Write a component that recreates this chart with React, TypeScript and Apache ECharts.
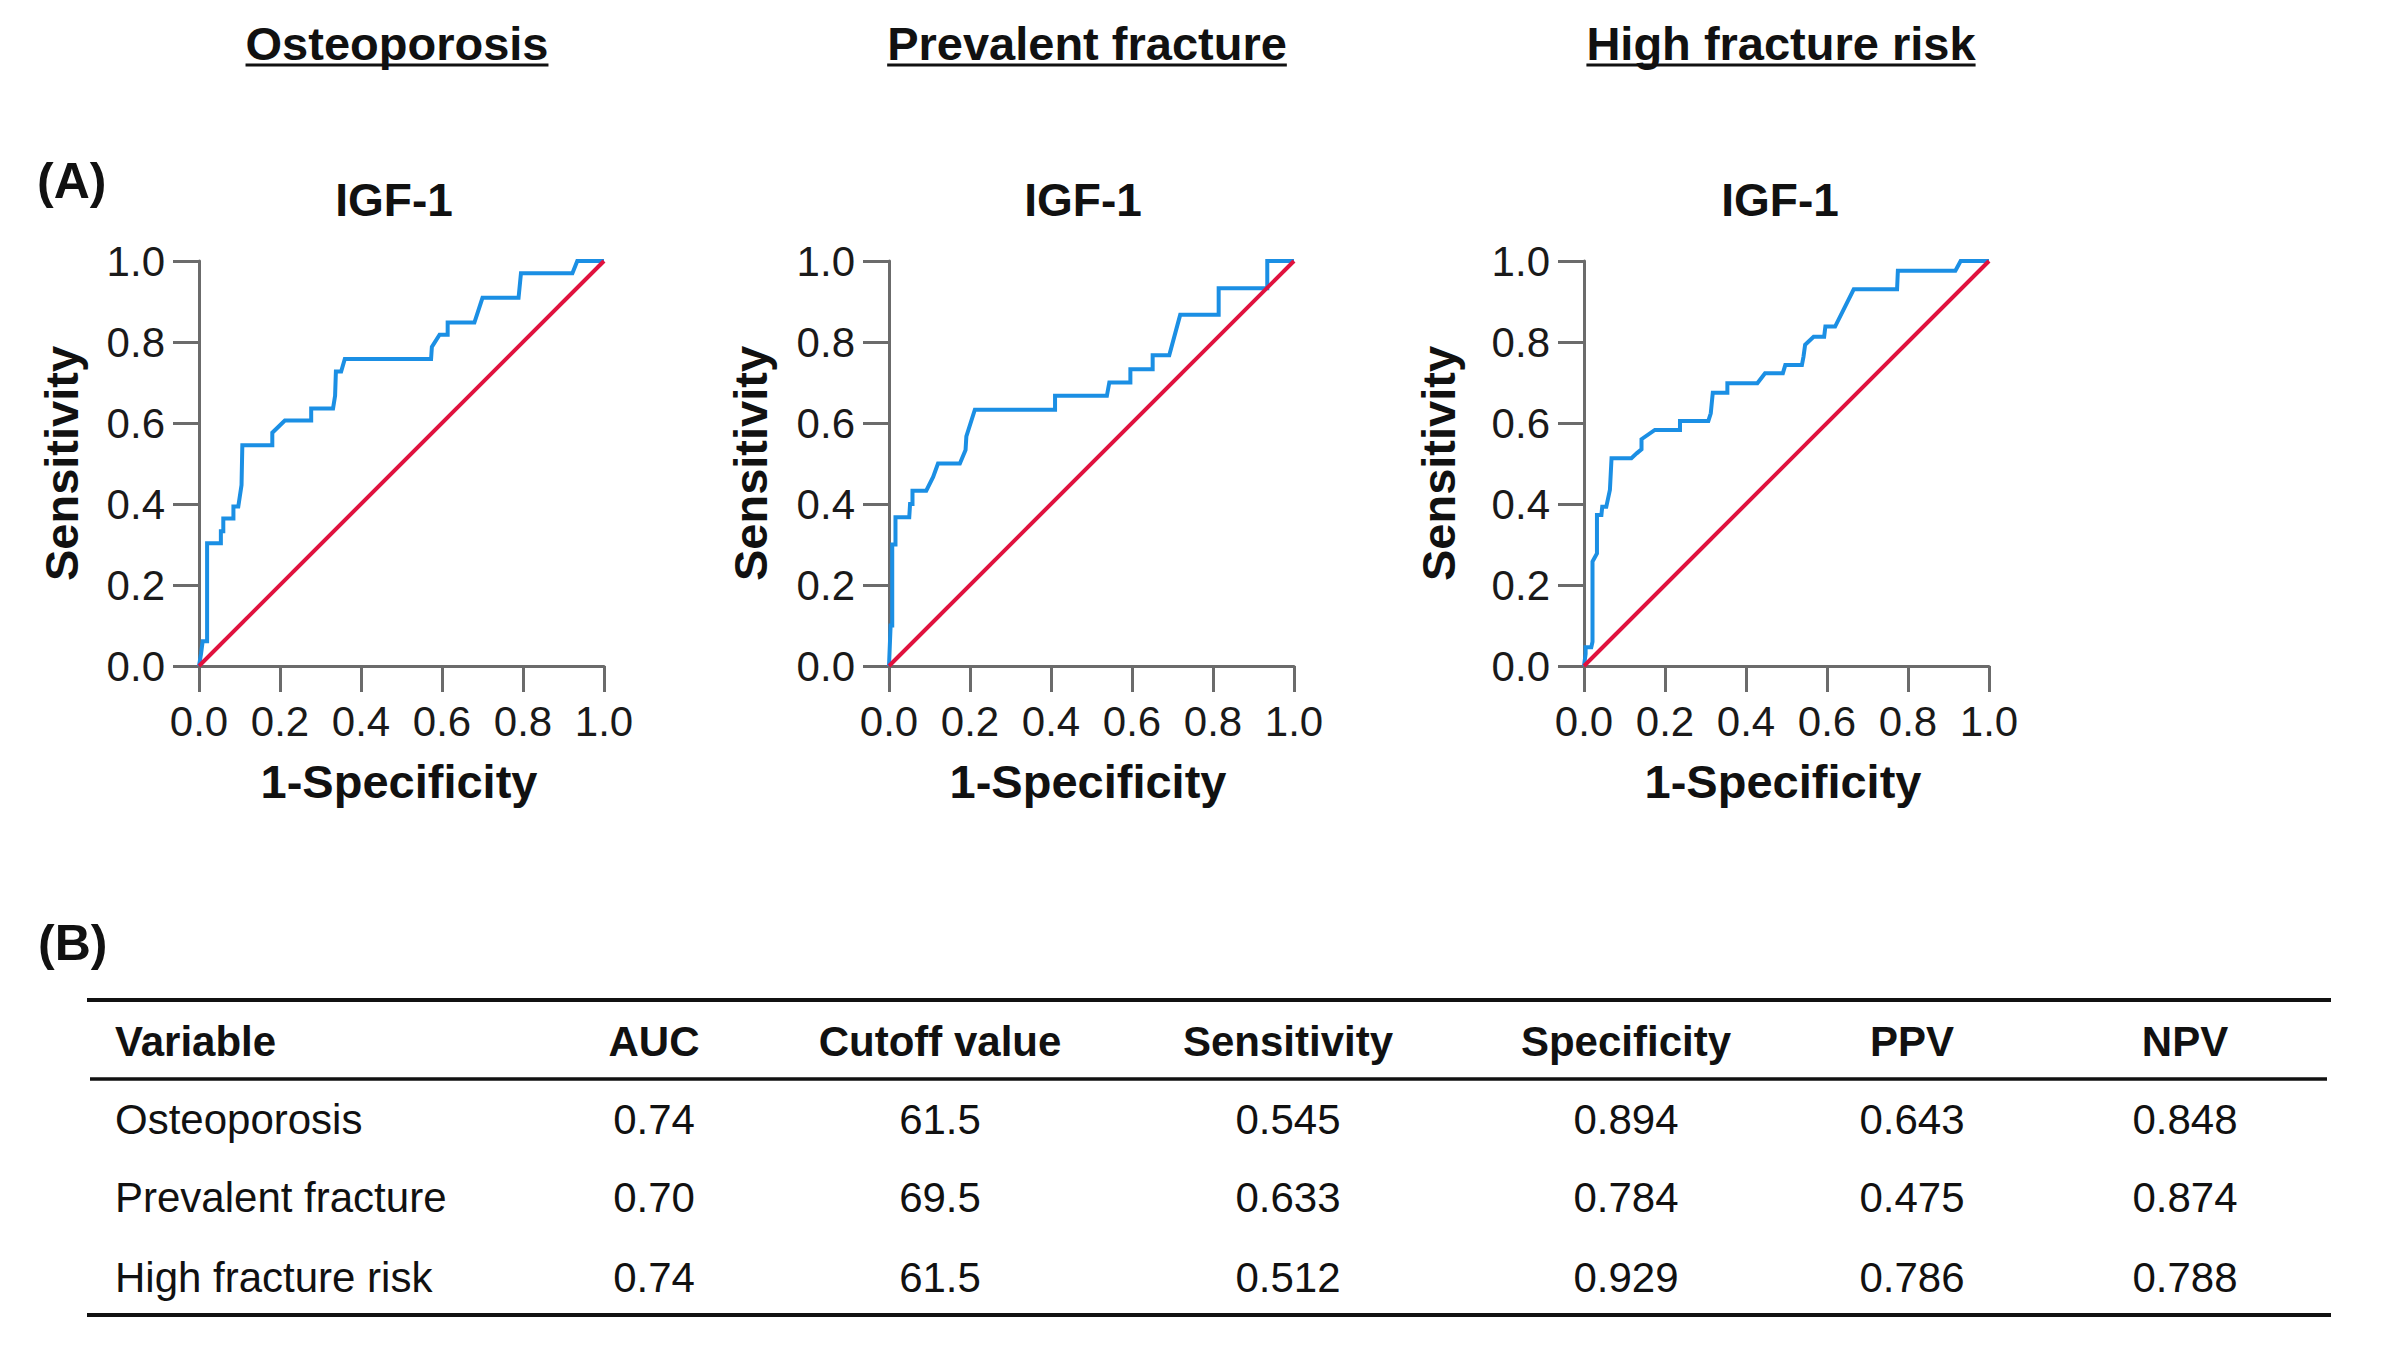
import React, { useEffect, useRef } from 'react';
import * as echarts from 'echarts';

// ---------- data ----------
const panelTitles = ['Osteoporosis', 'Prevalent fracture', 'High fracture risk'];
const plotTitle = 'IGF-1';
const xAxisTitle = '1-Specificity';
const yAxisTitle = 'Sensitivity';

const osteoFpr = [0, 0.005, 0.009, 0.020, 0.020, 0.054, 0.054, 0.060, 0.060, 0.085, 0.085, 0.097, 0.105, 0.107, 0.181, 0.181, 0.212, 0.277, 0.277, 0.331, 0.336, 0.338, 0.351, 0.360, 0.573, 0.575, 0.594, 0.614, 0.614, 0.680, 0.700, 0.789, 0.795, 0.922, 0.934, 1.0];
const osteoTpr = [0, 0.030, 0.061, 0.061, 0.303, 0.303, 0.333, 0.333, 0.364, 0.364, 0.394, 0.394, 0.447, 0.545, 0.545, 0.576, 0.606, 0.606, 0.636, 0.636, 0.667, 0.727, 0.727, 0.758, 0.758, 0.788, 0.818, 0.818, 0.848, 0.848, 0.909, 0.909, 0.970, 0.970, 1.0, 1.0];

const prevFpr = [0, 0.004, 0.008, 0.008, 0.016, 0.016, 0.050, 0.052, 0.058, 0.058, 0.092, 0.109, 0.121, 0.175, 0.189, 0.191, 0.212, 0.410, 0.410, 0.538, 0.544, 0.596, 0.596, 0.651, 0.651, 0.692, 0.719, 0.814, 0.814, 0.934, 0.934, 1.0];
const prevTpr = [0, 0.100, 0.100, 0.300, 0.300, 0.367, 0.367, 0.400, 0.400, 0.433, 0.433, 0.467, 0.500, 0.500, 0.533, 0.567, 0.633, 0.633, 0.667, 0.667, 0.700, 0.700, 0.733, 0.733, 0.767, 0.767, 0.867, 0.867, 0.933, 0.933, 1.0, 1.0];

const highFpr = [0, 0.004, 0.004, 0.018, 0.021, 0.021, 0.032, 0.032, 0.043, 0.045, 0.055, 0.064, 0.068, 0.117, 0.130, 0.142, 0.142, 0.175, 0.237, 0.237, 0.307, 0.313, 0.318, 0.354, 0.354, 0.428, 0.447, 0.491, 0.497, 0.538, 0.542, 0.546, 0.567, 0.593, 0.596, 0.620, 0.666, 0.773, 0.775, 0.917, 0.930, 1.0];
const highTpr = [0, 0.030, 0.046, 0.046, 0.060, 0.258, 0.278, 0.373, 0.373, 0.393, 0.393, 0.435, 0.513, 0.513, 0.525, 0.535, 0.560, 0.583, 0.583, 0.605, 0.605, 0.624, 0.675, 0.675, 0.698, 0.698, 0.723, 0.723, 0.743, 0.743, 0.764, 0.793, 0.813, 0.813, 0.838, 0.838, 0.930, 0.930, 0.976, 0.976, 1.0, 1.0];

const refLine = [[0, 0], [1, 1]];

const tableHeader = ['Variable', 'AUC', 'Cutoff value', 'Sensitivity', 'Specificity', 'PPV', 'NPV'];
const tableVariables = ['Osteoporosis', 'Prevalent fracture', 'High fracture risk'];
const aucValues = ['0.74', '0.70', '0.74'];
const cutoffValues = ['61.5', '69.5', '61.5'];
const sensValues = ['0.545', '0.633', '0.512'];
const specValues = ['0.894', '0.784', '0.929'];
const ppvValues = ['0.643', '0.475', '0.786'];
const npvValues = ['0.848', '0.874', '0.788'];

// ---------- layout ----------
const FONT = '"Liberation Sans", Arial, Helvetica, sans-serif';
const BLUE = '#1b8fe4';
const RED = '#e0123e';
const AXIS = '#6b6b6b';
const gridLefts = [199, 889, 1584];
const gridTop = 261;
const gridSize = 405;
const titleX = [397, 1087, 1781];
const igfX = [394, 1083, 1780];
const sensX = [61, 750, 1438];
const specX = [399, 1088, 1783];
const colX = [115, 654, 940, 1288, 1626, 1912, 2185];
const rowY = [1119, 1197, 1277];

function measure(text: string, font: string) {
  const c = document.createElement('canvas').getContext('2d');
  if (!c) return text.length * 25;
  c.font = font;
  return c.measureText(text).width;
}

export default function App() {
  const ref = useRef<HTMLDivElement>(null);
  useEffect(() => {
    if (!ref.current) return;
    const chart = echarts.init(ref.current, undefined, { renderer: 'svg' });
    const curves = [
      osteoFpr.map((x, i) => [x, osteoTpr[i]]),
      prevFpr.map((x, i) => [x, prevTpr[i]]),
      highFpr.map((x, i) => [x, highTpr[i]]),
    ];
    const grids = gridLefts.map((l) => ({ left: l, top: gridTop, width: gridSize, height: gridSize }));
    const axisCommon = {
      type: 'value' as const,
      min: 0,
      max: 1,
      interval: 0.2,
      splitLine: { show: false },
      axisLine: { show: true, lineStyle: { color: AXIS, width: 3 } },
      axisTick: { show: true, length: 26, lineStyle: { color: AXIS, width: 3 } },
    };
    const xAxes = gridLefts.map((_, i) => ({
      ...axisCommon,
      gridIndex: i,
      axisLabel: { fontSize: 42, fontFamily: FONT, color: '#1a1a1a', margin: 34, formatter: (v: number) => v.toFixed(1) },
    }));
    const yAxes = gridLefts.map((_, i) => ({
      ...axisCommon,
      gridIndex: i,
      axisLabel: { fontSize: 42, fontFamily: FONT, color: '#1a1a1a', margin: 34, formatter: (v: number) => v.toFixed(1) },
    }));
    const series: any[] = [];
    curves.forEach((d, i) => {
      series.push({
        type: 'line', xAxisIndex: i, yAxisIndex: i, data: d, showSymbol: false, symbol: 'none',
        clip: false, lineStyle: { color: BLUE, width: 4, join: 'miter' }, z: 3,
      });
      series.push({
        type: 'line', xAxisIndex: i, yAxisIndex: i, data: refLine, showSymbol: false, symbol: 'none',
        clip: false, lineStyle: { color: RED, width: 4 }, z: 4,
      });
    });

    const graphic: any[] = [];
    const boldTitle = `bold 47px ${FONT}`;
    panelTitles.forEach((t, i) => {
      graphic.push({ type: 'text', x: titleX[i], y: 43, style: { text: t, font: boldTitle, fill: '#111', textAlign: 'center', textVerticalAlign: 'middle' } });
      const w = measure(t, boldTitle);
      graphic.push({ type: 'line', shape: { x1: titleX[i] - w / 2, y1: 65, x2: titleX[i] + w / 2, y2: 65 }, style: { stroke: '#111', lineWidth: 3 } });
      graphic.push({ type: 'text', x: igfX[i], y: 200, style: { text: plotTitle, font: `bold 46px ${FONT}`, fill: '#111', textAlign: 'center', textVerticalAlign: 'middle' } });
      graphic.push({ type: 'text', x: sensX[i], y: gridTop + gridSize / 2, rotation: Math.PI / 2, style: { text: yAxisTitle, font: boldTitle, fill: '#111', textAlign: 'center', textVerticalAlign: 'middle' } });
      graphic.push({ type: 'text', x: specX[i], y: 781, style: { text: xAxisTitle, font: boldTitle, fill: '#111', textAlign: 'center', textVerticalAlign: 'middle' } });
    });
    graphic.push({ type: 'text', x: 37, y: 181, style: { text: '(A)', font: `bold 50px ${FONT}`, fill: '#111', textAlign: 'left', textVerticalAlign: 'middle' } });
    graphic.push({ type: 'text', x: 38, y: 943, style: { text: '(B)', font: `bold 50px ${FONT}`, fill: '#111', textAlign: 'left', textVerticalAlign: 'middle' } });

    // table
    graphic.push({ type: 'line', shape: { x1: 87, y1: 1000, x2: 2331, y2: 1000 }, style: { stroke: '#111', lineWidth: 4 } });
    graphic.push({ type: 'line', shape: { x1: 90, y1: 1079, x2: 2327, y2: 1079 }, style: { stroke: '#111', lineWidth: 3.5 } });
    graphic.push({ type: 'line', shape: { x1: 87, y1: 1315, x2: 2331, y2: 1315 }, style: { stroke: '#111', lineWidth: 4 } });
    tableHeader.forEach((h, j) => {
      graphic.push({ type: 'text', x: colX[j], y: 1041, style: { text: h, font: `bold 42px ${FONT}`, fill: '#111', textAlign: j === 0 ? 'left' : 'center', textVerticalAlign: 'middle' } });
    });
    const cols = [tableVariables, aucValues, cutoffValues, sensValues, specValues, ppvValues, npvValues];
    rowY.forEach((y, r) => {
      cols.forEach((col, j) => {
        graphic.push({ type: 'text', x: colX[j], y, style: { text: col[r], font: `42px ${FONT}`, fill: '#111', textAlign: j === 0 ? 'left' : 'center', textVerticalAlign: 'middle' } });
      });
    });

    chart.setOption({
      animation: false,
      backgroundColor: '#ffffff',
      grid: grids,
      xAxis: xAxes,
      yAxis: yAxes,
      series,
      graphic,
    });
    return () => chart.dispose();
  }, []);
  return <div ref={ref} style={{ position: 'fixed', left: 0, top: 0, width: 2399, height: 1345, background: '#fff' }} />;
}
